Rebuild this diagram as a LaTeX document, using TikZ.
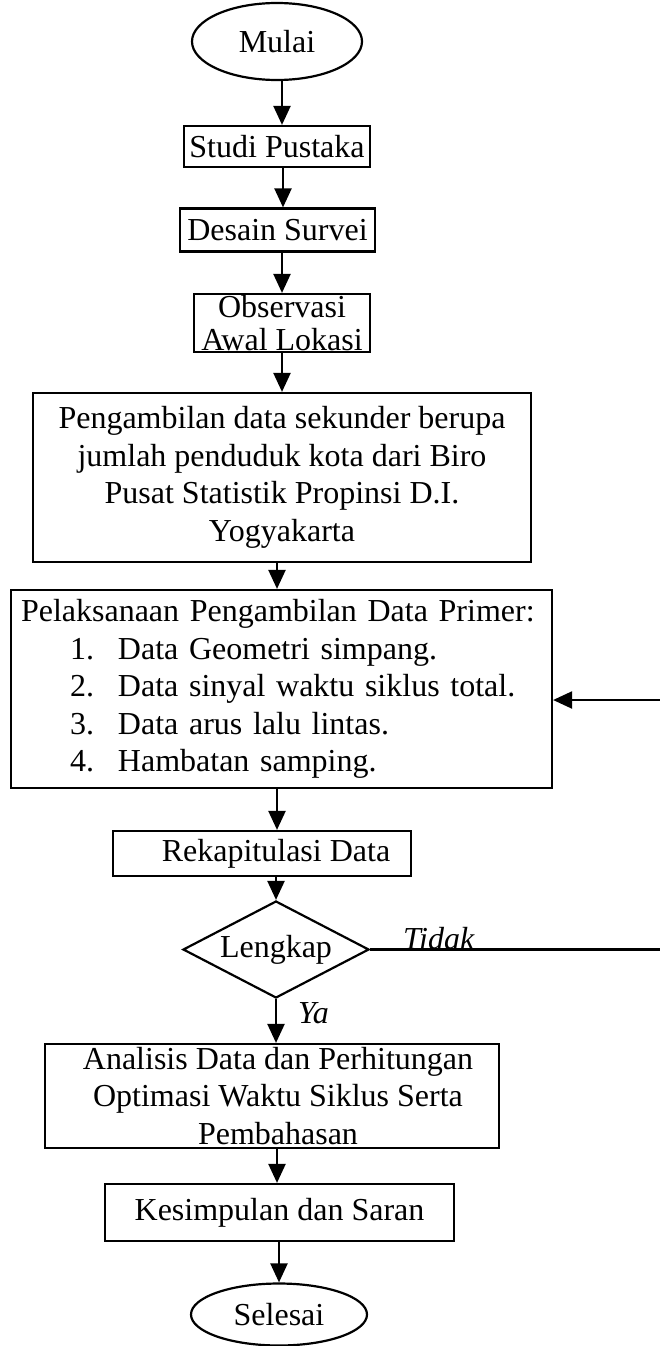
\documentclass[tikz,border=0pt]{standalone}
\usepackage{fontspec}
\setmainfont{Liberation Serif}
\usetikzlibrary{shapes.geometric,arrows.meta}
\begin{document}
\begin{tikzpicture}[x=1pt,y=-1pt,
  every node/.style={font=\fontsize{32}{37.5}\selectfont, inner sep=0pt, line width=2.2pt},
  proc/.style={draw, rectangle, align=center},
  term/.style={draw, ellipse},
  decide/.style={draw, diamond, aspect=1.9},
  arr/.style={line width=2.2pt, -{Triangle[length=19pt,width=17pt]}},
  lbl/.style={font=\itshape\fontsize{32}{37.5}\selectfont}
]
\useasboundingbox (0,0) rectangle (660,1346);

\node[term, minimum width=170pt, minimum height=77pt] (mulai) at (277,41.5) {Mulai};
\node[proc, minimum width=186pt, minimum height=41pt] (studi) at (277,146.5) {Studi Pustaka};
\node[proc, minimum width=195pt, minimum height=43pt] (desain) at (277.5,230) {Desain Survei};
\node[proc, minimum width=176pt, minimum height=58pt, font=\fontsize{32}{33}\selectfont] (obs) at (282,323) {Observasi\\Awal Lokasi};
\node[proc, minimum width=498pt, minimum height=169pt] (ambil) at (282,477.5)
  {Pengambilan data sekunder berupa\\jumlah penduduk kota dari Biro\\Pusat Statistik Propinsi D.I.\\Yogyakarta};
\node[proc, text width=521pt, inner xsep=10pt, minimum height=198pt, align=left] (laksana) at (281.5,689)
  {Pelaksanaan Pengambilan Data Primer:\\
   \hspace*{49pt}\makebox[48pt][l]{1.}Data Geometri simpang.\\
   \hspace*{49pt}\makebox[48pt][l]{2.}Data sinyal waktu siklus total.\\
   \hspace*{49pt}\makebox[48pt][l]{3.}Data arus lalu lintas.\\
   \hspace*{49pt}\makebox[48pt][l]{4.}Hambatan samping.};
\node[proc, minimum width=298pt, minimum height=45pt] (rekap) at (262,853.5) {\hspace*{28pt}Rekapitulasi Data};
\node[decide, minimum width=186pt, minimum height=97pt] (lengkap) at (276,949.5) {Lengkap};
\node[proc, minimum width=454pt, minimum height=104pt] (analisis) at (272,1096)
  {\hspace*{12pt}Analisis Data dan Perhitungan\\\hspace*{12pt}Optimasi Waktu Siklus Serta\\\hspace*{12pt}Pembahasan};
\node[proc, minimum width=349pt, minimum height=57pt] (kes) at (279.5,1212.5) {Kesimpulan dan Saran};
\node[term, minimum width=176pt, minimum height=62pt] (selesai) at (279,1314.5) {Selesai};

\coordinate (turn) at (668,949.5);
\coordinate (back) at (668,700);

\draw[arr] ([xshift=5pt]mulai.south) -- ([xshift=5pt]mulai.south |- studi.north);
\draw[arr] ([xshift=6pt]studi.south) -- ([xshift=6pt]studi.south |- desain.north);
\draw[arr] (obs.north |- desain.south) -- (obs.north);
\draw[arr] (obs.south) -- (obs.south |- ambil.north);
\draw[arr] ([xshift=-5pt]ambil.south) -- ([xshift=-5pt]ambil.south |- laksana.north);
\draw[arr] ([xshift=-4.5pt]laksana.south) -- ([xshift=-4.5pt]laksana.south |- rekap.north);
\draw[arr] (lengkap.north |- rekap.south) -- (lengkap.north);
\draw[arr] (lengkap.south) -- (lengkap.south |- analisis.north);
\draw[arr] ([xshift=-2.5pt]kes.north |- analisis.south) -- ([xshift=-2.5pt]kes.north);
\draw[arr] (selesai.north |- kes.south) -- (selesai.north);
\draw[arr] (lengkap.east) -- (turn) -- (back) -- (laksana.east |- back);

\node[lbl, anchor=base west] (tidak) at (402,949) {Tidak};
\node[lbl, anchor=base west] (ya) at (297,1023) {Ya};
\end{tikzpicture}
\end{document}
